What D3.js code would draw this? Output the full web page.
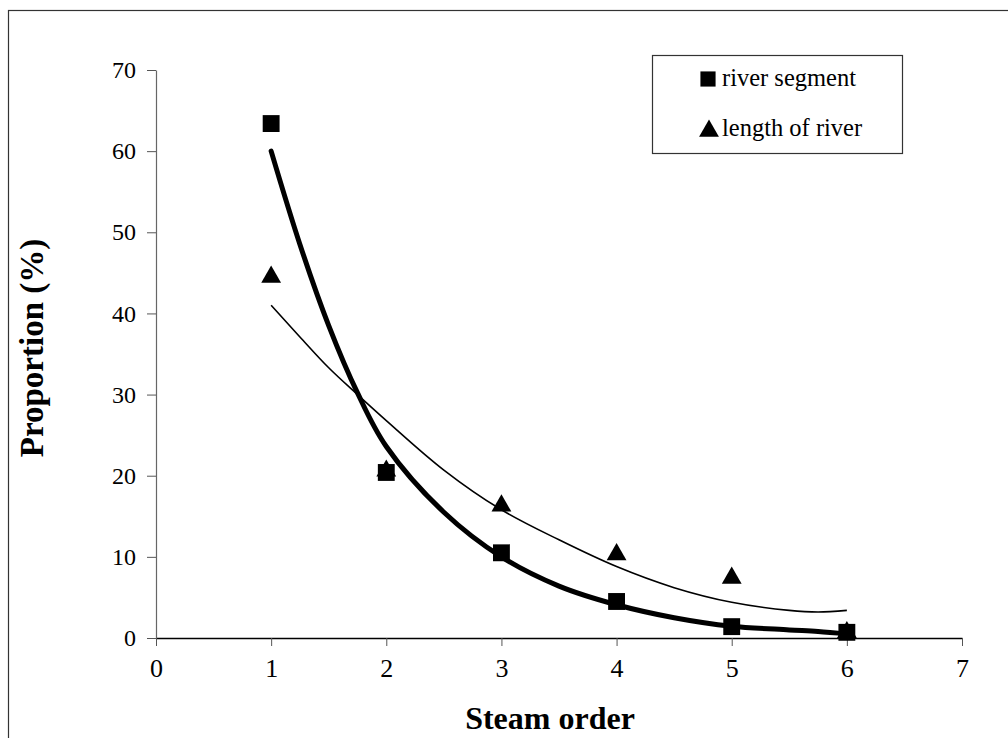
<!DOCTYPE html>
<html>
<head>
<meta charset="utf-8">
<script src="https://cdn.jsdelivr.net/npm/d3@7"></script>
<style>
  body { margin: 0; background: #fff; }
  svg { display: block; font-family: "Liberation Serif", "Times New Roman", serif; }
</style>
</head>
<body>
<script>
  // stream order vs proportion
  const orders = [1, 2, 3, 4, 5, 6];
  const riverSegment = [63.4, 20.4, 10.5, 4.5, 1.4, 0.7];
  const riverLength = [44.5, 20.6, 16.3, 10.3, 7.4, 0.7];

  // trend lines
  const trendX = [1, 1.25, 1.5, 1.75, 2, 2.5, 3, 3.5, 4, 4.5, 5, 5.5, 5.75, 6];
  const segmentTrend = [60, 48.5, 38.5, 30.2, 23.6, 15.5, 10, 6.4, 4.1, 2.5, 1.45, 1.0, 0.8, 0.5];
  const lengthTrend = [41, 37.1, 33.3, 30, 26.8, 20.7, 15.8, 12.1, 8.8, 6.2, 4.4, 3.4, 3.2, 3.4];

  const xTicks = [0, 1, 2, 3, 4, 5, 6, 7];
  const yTicks = [0, 10, 20, 30, 40, 50, 60, 70];
  const legendLabels = ["river segment", "length of river"];

  const width = 1008;
  const height = 738;
  const margin = { top: 70, right: 46, bottom: 100, left: 156 };

  const svg = d3.select("body").append("svg")
    .attr("width", width)
    .attr("height", height);

  // outer frame (right and bottom run off the page)
  svg.append("rect")
    .attr("x", 8.5).attr("y", 10.5)
    .attr("width", 1010).attr("height", 740)
    .attr("fill", "none")
    .attr("stroke", "#333")
    .attr("stroke-width", 1.2);

  const x = d3.scaleLinear().domain([0, 7]).range([margin.left, width - margin.right]);
  const y = d3.scaleLinear().domain([0, 70]).range([height - margin.bottom, margin.top]);

  const xAxis = svg.append("g")
    .attr("transform", `translate(0,${y(0)})`)
    .call(d3.axisBottom(x).tickValues(xTicks).tickSize(8).tickSizeOuter(0).tickPadding(13).tickFormat(d3.format("d")));
  xAxis.attr("font-size", 26).attr("font-family", "Liberation Serif");
  xAxis.select(".domain").attr("stroke", "#000").attr("stroke-width", 1.3);
  xAxis.selectAll(".tick line").attr("stroke", "#555");
  xAxis.selectAll("text").attr("fill", "#000");

  const yAxis = svg.append("g")
    .attr("transform", `translate(${x(0)},0)`)
    .call(d3.axisLeft(y).tickValues(yTicks).tickSize(9).tickSizeOuter(0).tickPadding(11).tickFormat(d3.format("d")));
  yAxis.attr("font-size", 24).attr("font-family", "Liberation Serif");
  yAxis.select(".domain").attr("stroke", "#666").attr("stroke-width", 1.2);
  yAxis.selectAll(".tick line").attr("stroke", "#555");
  yAxis.selectAll("text").attr("fill", "#000");

  // axis titles
  svg.append("text")
    .attr("x", 550).attr("y", 729)
    .attr("text-anchor", "middle")
    .attr("font-size", 32)
    .attr("font-weight", "bold")
    .text("Steam order");

  svg.append("text")
    .attr("transform", `translate(43,${348}) rotate(-90)`)
    .attr("text-anchor", "middle")
    .attr("font-size", 33)
    .attr("font-weight", "bold")
    .text("Proportion (%)");

  // trend lines
  const line = d3.line()
    .x((d) => x(d[0]))
    .y((d) => y(d[1]))
    .curve(d3.curveCatmullRom);

  svg.append("path")
    .datum(d3.zip(trendX, lengthTrend))
    .attr("d", line)
    .attr("fill", "none")
    .attr("stroke", "#000")
    .attr("stroke-width", 1.6);

  svg.append("path")
    .datum(d3.zip(trendX, segmentTrend))
    .attr("d", line)
    .attr("fill", "none")
    .attr("stroke", "#000")
    .attr("stroke-width", 5)
    .attr("stroke-linecap", "round");

  // markers
  const triangle = d3.symbol().type(d3.symbolTriangle).size(170);
  const square = d3.symbol().type(d3.symbolSquare).size(285);

  svg.append("g")
    .selectAll("path")
    .data(d3.zip(orders, riverLength))
    .enter()
    .append("path")
    .attr("d", triangle)
    .attr("transform", (d) => `translate(${x(d[0])},${y(d[1])})`)
    .attr("fill", "#000");

  svg.append("g")
    .selectAll("path")
    .data(d3.zip(orders, riverSegment))
    .enter()
    .append("path")
    .attr("d", square)
    .attr("transform", (d) => `translate(${x(d[0])},${y(d[1])})`)
    .attr("fill", "#000");

  // legend
  const legend = svg.append("g");
  legend.append("rect")
    .attr("x", 652.5).attr("y", 55.5)
    .attr("width", 250).attr("height", 98)
    .attr("fill", "#fff")
    .attr("stroke", "#333")
    .attr("stroke-width", 1.2);

  legend.append("path")
    .attr("d", d3.symbol().type(d3.symbolSquare).size(230))
    .attr("transform", "translate(708,79)");
  legend.append("path")
    .attr("d", d3.symbol().type(d3.symbolTriangle).size(170))
    .attr("transform", "translate(709,131)");

  legend.selectAll("text")
    .data(legendLabels)
    .enter()
    .append("text")
    .attr("x", 722)
    .attr("y", (d, i) => 86 + i * 50)
    .attr("font-size", 24.5)
    .text((d) => d);
</script>
</body>
</html>
